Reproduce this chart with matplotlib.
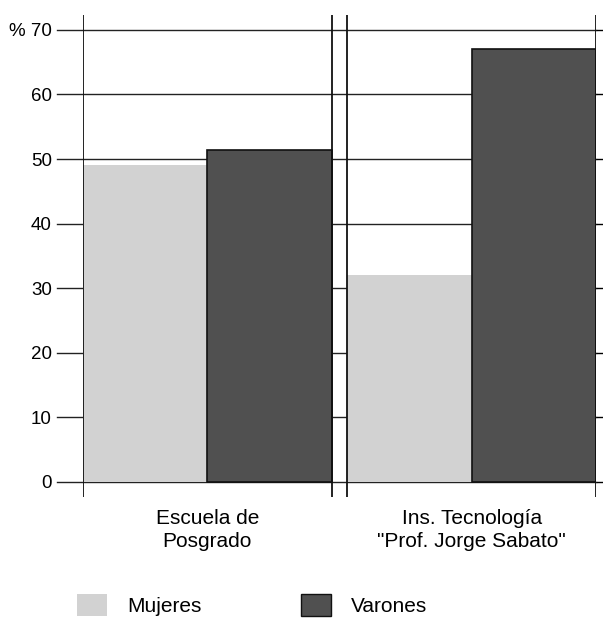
import numpy as np
import matplotlib.pyplot as plt
from matplotlib.patches import Patch

plt.rcParams['font.family'] = ['Liberation Sans', 'DejaVu Sans']

# datos
categorias = ['Escuela de\nPosgrado', 'Ins. Tecnología\n"Prof. Jorge Sabato"']
mujeres = [49, 32]
varones = [51.4, 67]
yticks = [0, 10, 20, 30, 40, 50, 60, 70]
ytick_labels = ['0', '10', '20', '30', '40', '50', '60', '% 70']

col_muj = '#d2d2d2'
col_var = '#505050'

fig = plt.figure(figsize=(6.03, 6.18), dpi=100)
ax = fig.add_axes([0.1376, 0.1951, 0.8507, 0.7806])

x = np.arange(len(categorias))
w = 0.47
ax.bar(x - w / 2, mujeres, width=w, color=col_muj, edgecolor='none', zorder=2)
ax.bar(x + w / 2, varones, width=w, color=col_var, edgecolor='#111111', linewidth=1.2, zorder=2)

ax.set_xlim(-w, len(categorias) - 1 + w)
ax.set_ylim(-2.4, 72.3)

# lineas horizontales (salen un poco a la izquierda)
for yv in yticks:
    ax.axhline(yv, xmin=-0.05, xmax=1.0, color='#222222', lw=1.0, zorder=1, clip_on=False)

# bordes de cada panel
ylo, yhi = ax.get_ylim()
for xi in x:
    ax.vlines([xi - w, xi + w], ylo, yhi, color='#111111', lw=1.3, zorder=3)

for s in ['top', 'bottom', 'left', 'right']:
    ax.spines[s].set_visible(False)

ax.set_yticks(yticks)
ax.set_yticklabels(ytick_labels, fontsize=13.5)
ax.tick_params(axis='y', left=False, right=True, length=5, width=1.0, pad=17.5, direction='out')
ax.set_xticks(x)
ax.set_xticklabels(categorias, fontsize=15, linespacing=1.28)
ax.tick_params(axis='x', length=0, pad=8)

# leyenda
handles = [Patch(facecolor=col_muj, edgecolor='none', label='Mujeres'),
           Patch(facecolor=col_var, edgecolor='#111111', label='Varones')]
fig.legend(handles=handles, loc='center left', bbox_to_anchor=(0.128, 0.021), ncol=2,
           frameon=False, fontsize=15, handlelength=1.45, handleheight=1.2,
           handletextpad=0.95, columnspacing=4.75, borderpad=0, borderaxespad=0)

fig.savefig('out.png', dpi=100)
